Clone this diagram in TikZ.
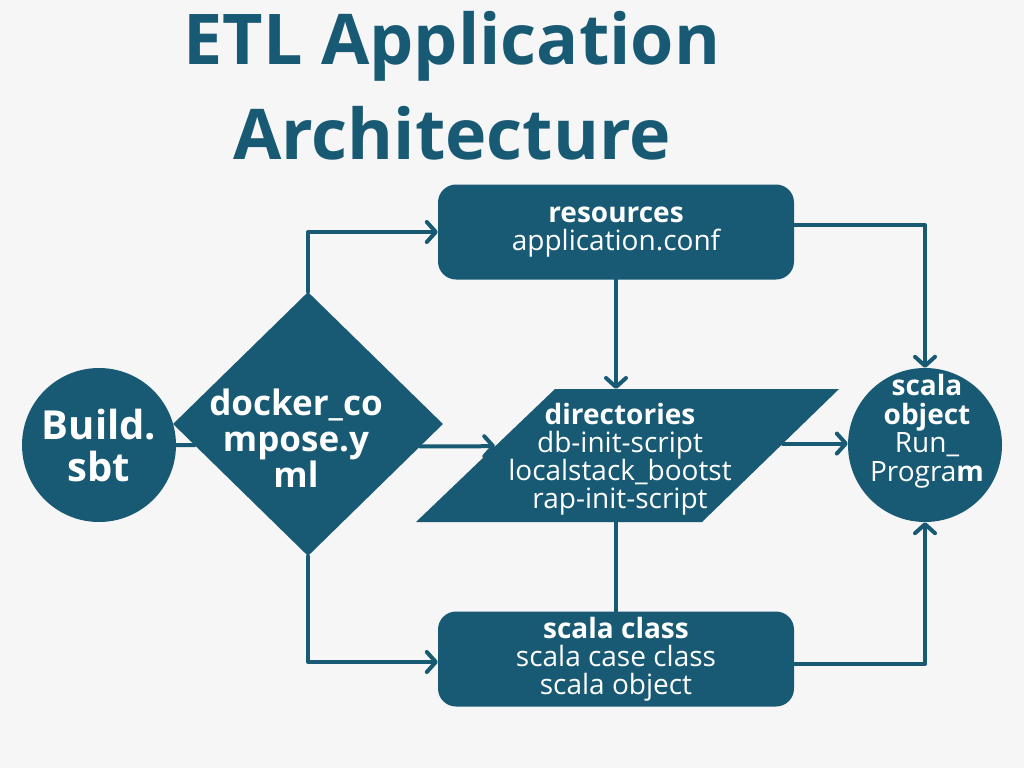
\documentclass[tikz,border=0pt]{standalone}
\usepackage{fontspec}
\setmainfont{Open Sans}
\usepackage{tikz}
\usetikzlibrary{positioning, shapes.geometric, arrows.meta, calc}

\definecolor{etlblue}{HTML}{185A74}
\definecolor{etlbg}{HTML}{F6F6F6}

\begin{document}
\begin{tikzpicture}[x=1pt, y=-1pt,
    line/.style={draw=etlblue, line width=4pt, line cap=round, line join=round},
    arr/.style={line, -{Straight Barb[length=9pt, width=20pt, line cap=round, line join=round]}},
    blk/.style={fill=etlblue, text=white, inner sep=0pt, align=center},
    roundbox/.style={blk, rectangle, rounded corners=18pt, minimum width=356, minimum height=95,
        font=\fontsize{28}{28}\selectfont},
    ball/.style={blk, circle, minimum size=154},
    intext/.style={text=white, inner sep=0pt, align=center}]

    % --- background ---
    \fill[etlbg] (0,0) rectangle (1024,768);
    \useasboundingbox (0,0) rectangle (1024,768);

    % --- title ---
    \node[text=etlblue, align=center, inner sep=0pt, font=\fontsize{70}{95}\selectfont\bfseries]
        (title) at (452,86) {ETL Application\\Architecture};

    % --- shapes ---
    \node[blk, diamond, minimum width=270, minimum height=264] (dock) at (308,424) {};
    \node[intext, font=\fontsize{35}{36}\selectfont\bfseries] (docktext) at (296,438)
        {docker\_co\\mpose.y\\ml};
    \node[ball, font=\fontsize{40}{42}\selectfont\bfseries] (build) at (99,445) {Build.\\sbt};

    \node[roundbox] (res) at (616,232) {\textbf{resources}\\application.conf};

    % parallelogram, 45 degree slant
    \coordinate (dirsTL) at (555,389);
    \coordinate (dirsTR) at (839,389);
    \coordinate (dirsBR) at (702,522);
    \coordinate (dirsBL) at (416,522);
    \fill[etlblue] (dirsTL) -- (dirsTR) -- (dirsBR) -- (dirsBL) -- cycle;
    \node[intext, font=\fontsize{28}{28}\selectfont] (dirs) at (620,459)
        {\textbf{directories}\\db-init-script\\localstack\_bootst\\rap-init-script};

    \node[roundbox] (cls) at (616,659) {\textbf{scala class}\\scala case class\\scala object};

    \node[ball] (run) at (925,445) {};
    \node[intext, font=\fontsize{28}{28.5}\selectfont] (runtext) at (927,431)
        {\textbf{scala}\\\textbf{object}\\Run\_\\Progra\textbf{m}};

    % --- connectors ---
    \draw[line] (build.east) -- ($(dock.west)!0.16!(dock.south)$);
    \draw[arr] (dock.north) |- (res.west);
    \draw[arr] (dock.south) |- ([yshift=-3pt]cls.west);

    \coordinate (dockout) at ($(dock.east)!0.17!(dock.south)$);
    \draw[arr] (dockout) -- ($(dirsBL)!0.57!(dirsTL)$);
    \draw[arr] (res.south) -- (res.south |- dirsTL);
    \draw[line] (cls.north |- dirsBL) -- (cls.north);

    \coordinate (dirsout) at ($(dirsTR)!0.41!(dirsBR)$);
    \draw[arr] (dirsout) -- (dirsout -| run.west);
    \draw[arr] ([yshift=7pt]res.east) -| (run.north);
    \draw[arr] ([yshift=-5pt]cls.east) -| (run.south);
\end{tikzpicture}
\end{document}
